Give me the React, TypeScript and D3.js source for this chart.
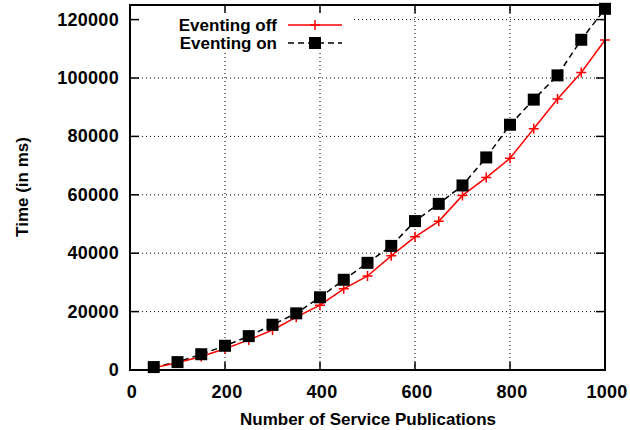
import React, { useRef, useEffect } from 'react';
import * as d3 from 'd3';

// Number of service publications (x)
const publications = [50, 100, 150, 200, 250, 300, 350, 400, 450, 500, 550, 600, 650, 700, 750, 800, 850, 900, 950, 1000];

// Time in ms
const eventingOff = [800, 2500, 4600, 7300, 10300, 13700, 18100, 22200, 27800, 32200, 39100, 45600, 50900, 59800, 65900, 72500, 82600, 92800, 101900, 113000];
const eventingOn = [1000, 2700, 5400, 8300, 11600, 15500, 19400, 24900, 30900, 36700, 42500, 51000, 56900, 63200, 72800, 84000, 92600, 100900, 113100, 123700];

const xTicks = [0, 200, 400, 600, 800, 1000];
const yTicks = [0, 20000, 40000, 60000, 80000, 100000, 120000];

const FONT = '"Liberation Sans", Arial, sans-serif';

const App = () => {
  const ref = useRef<SVGSVGElement>(null);
  const width = 630;
  const height = 430;

  useEffect(() => {
    const svg = d3.select(ref.current);
    svg.selectAll('*').remove();

    const left = 130, right = 605, top = 5, bottom = 370;

    const x = d3.scaleLinear().domain([0, 1000]).range([left, right]);
    const y = d3.scaleLinear().domain([0, 125000]).range([bottom, top]);

    svg.append('rect').attr('width', width).attr('height', height).attr('fill', '#fff');

    // Grid (dotted)
    const grid = svg.append('g').attr('stroke', '#000').attr('stroke-width', 1).attr('stroke-dasharray', '1,3');
    xTicks.slice(1, -1).forEach(t => {
      grid.append('line').attr('x1', x(t)).attr('x2', x(t)).attr('y1', bottom).attr('y2', top);
    });
    yTicks.slice(1).forEach(t => {
      grid.append('line').attr('x1', left).attr('x2', right).attr('y1', y(t)).attr('y2', y(t));
    });

    // Legend background hides the grid behind it
    svg.append('rect').attr('x', left + 1).attr('y', top + 1).attr('width', 220).attr('height', 46).attr('fill', '#fff');

    // Ticks on all four sides
    const ticks = svg.append('g').attr('stroke', '#000').attr('stroke-width', 1.5);
    xTicks.forEach(t => {
      ticks.append('line').attr('x1', x(t)).attr('x2', x(t)).attr('y1', bottom).attr('y2', bottom - 8);
      ticks.append('line').attr('x1', x(t)).attr('x2', x(t)).attr('y1', top).attr('y2', top + 8);
    });
    yTicks.forEach(t => {
      ticks.append('line').attr('x1', left).attr('x2', left + 9).attr('y1', y(t)).attr('y2', y(t));
      ticks.append('line').attr('x1', right).attr('x2', right - 9).attr('y1', y(t)).attr('y2', y(t));
    });

    // Tick labels
    svg.append('g').selectAll('text').data(xTicks).enter().append('text')
      .attr('x', d => x(d) + 2).attr('y', bottom + 28)
      .attr('text-anchor', 'middle').attr('font-family', FONT).attr('font-weight', 'bold')
      .attr('font-size', 18).attr('letter-spacing', 0.3).attr('fill', '#000').text(d => d);

    svg.append('g').selectAll('text').data(yTicks).enter().append('text')
      .attr('x', left - 11).attr('y', d => y(d) + 6)
      .attr('text-anchor', 'end').attr('font-family', FONT).attr('font-weight', 'bold')
      .attr('font-size', 18).attr('letter-spacing', 0.3).attr('fill', '#000').text(d => d);

    // Axis titles
    svg.append('text')
      .attr('x', 368).attr('y', 425)
      .attr('text-anchor', 'middle').attr('font-family', FONT).attr('font-weight', 'bold')
      .attr('font-size', 17).attr('fill', '#000').text('Number of Service Publications');

    svg.append('text')
      .attr('transform', 'rotate(-90)')
      .attr('x', -187).attr('y', 28)
      .attr('text-anchor', 'middle').attr('font-family', FONT).attr('font-weight', 'bold')
      .attr('font-size', 17).attr('fill', '#000').text('Time (in ms)');

    const line = d3.line<number>()
      .x((_, i) => x(publications[i]))
      .y(d => y(d));

    // Eventing on: black dashed with filled squares
    svg.append('path').datum(eventingOn)
      .attr('fill', 'none').attr('stroke', '#000').attr('stroke-width', 1.5)
      .attr('stroke-dasharray', '6,4').attr('d', line);

    // Eventing off: red solid with plus markers
    svg.append('path').datum(eventingOff)
      .attr('fill', 'none').attr('stroke', '#ff0000').attr('stroke-width', 1.5).attr('d', line);

    const drawPlus = (g, cx, cy) => {
      g.append('path')
        .attr('d', `M${cx - 5},${cy}H${cx + 5}M${cx},${cy - 5}V${cy + 5}`)
        .attr('stroke', '#ff0000').attr('stroke-width', 1.5).attr('fill', 'none');
    };
    const drawSquare = (g, cx, cy) => {
      g.append('rect').attr('x', cx - 6).attr('y', cy - 6).attr('width', 12).attr('height', 12).attr('fill', '#000');
    };

    const marks = svg.append('g');
    eventingOff.forEach((v, i) => drawPlus(marks, x(publications[i]), y(v)));
    eventingOn.forEach((v, i) => drawSquare(marks, x(publications[i]), y(v)));

    // Frame
    svg.append('rect')
      .attr('x', left).attr('y', top).attr('width', right - left).attr('height', bottom - top)
      .attr('fill', 'none').attr('stroke', '#000').attr('stroke-width', 2);

    // Legend
    const legend = svg.append('g');
    const entries = [
      { label: 'Eventing off', y: 25, color: '#ff0000', dash: null, marker: 'plus' },
      { label: 'Eventing on', y: 43, color: '#000', dash: '6,4', marker: 'square' },
    ];
    entries.forEach(e => {
      legend.append('text')
        .attr('x', 277).attr('y', e.y + 6)
        .attr('text-anchor', 'end').attr('font-family', FONT).attr('font-weight', 'bold')
        .attr('font-size', 17).attr('fill', '#000').text(e.label);
      legend.append('line')
        .attr('x1', 288).attr('x2', 342).attr('y1', e.y).attr('y2', e.y)
        .attr('stroke', e.color).attr('stroke-width', 1.5)
        .attr('stroke-dasharray', e.dash);
      if (e.marker === 'plus') drawPlus(legend, 315, e.y);
      else drawSquare(legend, 315, e.y);
    });
  }, []);

  return (
    <svg ref={ref} width={width} height={height} style={{ position: 'absolute', left: 0, top: 0 }} />
  );
};

export default App;
